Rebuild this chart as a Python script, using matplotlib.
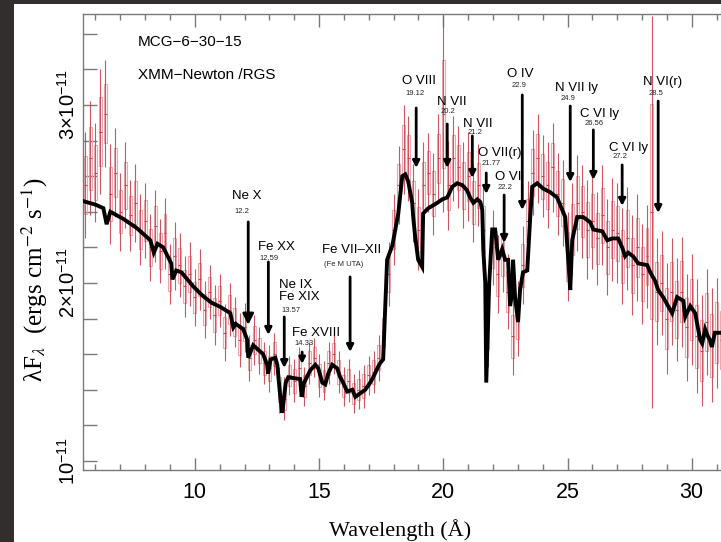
import numpy as np
import matplotlib
matplotlib.use("Agg")
import matplotlib.pyplot as plt
from matplotlib.patches import Rectangle

plt.rcParams["font.family"] = ["Liberation Sans", "DejaVu Sans"]
plt.rcParams["mathtext.fontset"] = "custom"
plt.rcParams["mathtext.rm"] = "Liberation Sans"
plt.rcParams["mathtext.it"] = "Liberation Sans:italic"
plt.rcParams["mathtext.bf"] = "Liberation Sans:bold"

# ---------------- data (flux in units of 1e-11 erg cm^-2 s^-1) ----------------
model_wl = [5.5, 6.0, 6.32, 6.45, 6.6, 7.12, 7.65, 8.21, 8.35, 8.5,
            8.73, 9.05, 9.1, 9.25, 9.46, 9.94, 10.3, 10.66, 11.03, 11.43,
            11.55, 11.65, 11.95, 12.11, 12.15, 12.35, 12.75, 12.91, 12.95, 13.05,
            13.24, 13.32, 13.44, 13.52, 13.66, 13.76, 14.24, 14.3, 14.4, 14.65,
            14.85, 14.97, 15.13, 15.25, 15.37, 15.53, 15.73, 15.85, 15.97, 16.13,
            16.34, 16.46, 16.66, 16.86, 17.06, 17.18, 17.38, 17.46, 17.58, 17.66,
            17.74, 17.95, 18.07, 18.19, 18.35, 18.47, 18.59, 18.75, 18.79, 18.87,
            18.99, 19.15, 19.19, 19.40, 19.76, 19.96, 20.16, 20.36, 20.56, 20.76,
            20.96, 21.08, 21.21, 21.37, 21.49, 21.57, 21.61, 21.69, 21.73, 21.85,
            21.97, 22.09, 22.17, 22.21, 22.37, 22.49, 22.61, 22.69, 22.77, 22.81,
            22.89, 23.01, 23.09, 23.21, 23.38, 23.50, 23.58, 23.78, 24.02, 24.30,
            24.58, 24.79, 24.91, 25.03, 25.11, 25.19, 25.39, 25.63, 25.92, 26.04,
            26.40, 26.60, 26.80, 27.04, 27.20, 27.32, 27.44, 27.64, 27.84, 28.21,
            28.33, 28.53, 28.65, 28.85, 29.05, 29.21, 29.41, 29.66, 29.74, 29.94,
            30.14, 30.26, 30.34, 30.42, 30.54, 30.65, 30.73, 30.81, 30.93, 31.13,
            31.6]
model_flux = [2.46, 2.44, 2.42, 2.33, 2.40, 2.36, 2.31, 2.24, 2.17, 2.22,
              2.20, 2.11, 2.02, 2.07, 2.06, 1.98, 1.93, 1.89, 1.865, 1.83,
              1.75, 1.77, 1.74, 1.68, 1.58, 1.65, 1.60, 1.54, 1.49, 1.57,
              1.58, 1.54, 1.36, 1.27, 1.44, 1.47, 1.46, 1.36, 1.44, 1.51,
              1.54, 1.52, 1.44, 1.43, 1.49, 1.54, 1.52, 1.47, 1.44, 1.39,
              1.40, 1.36, 1.38, 1.40, 1.44, 1.47, 1.53, 1.55, 1.57, 1.85,
              2.13, 2.21, 2.30, 2.39, 2.60, 2.61, 2.57, 2.45, 2.37, 2.26,
              2.13, 2.09, 2.39, 2.42, 2.45, 2.47, 2.48, 2.54, 2.56, 2.55,
              2.52, 2.48, 2.45, 2.47, 2.455, 2.41, 2.19, 2.00, 1.44, 2.00,
              2.30, 2.30, 2.19, 2.13, 2.19, 2.13, 2.13, 1.87, 1.94, 2.13,
              1.92, 1.78, 1.96, 2.06, 2.07, 2.37, 2.54, 2.56, 2.53, 2.51,
              2.48, 2.41, 2.37, 2.13, 1.96, 2.24, 2.37, 2.37, 2.34, 2.30,
              2.29, 2.24, 2.25, 2.25, 2.20, 2.15, 2.17, 2.15, 2.11, 2.10,
              2.06, 2.01, 1.96, 1.92, 1.87, 1.83, 1.92, 1.90, 1.81, 1.87,
              1.83, 1.74, 1.68, 1.66, 1.74, 1.70, 1.68, 1.64, 1.72, 1.72,
              1.72]

data_wl = np.round(np.arange(5.6, 31.21, 0.2), 1)
data_flux = [2.55, 2.70, 2.62, 2.85, 2.95, 2.50, 2.62, 2.40, 2.55, 2.38,
             2.45, 2.30, 2.35, 2.20, 2.32, 2.18, 2.28, 2.05, 2.15, 2.10,
             1.98, 2.05, 1.92, 2.02, 1.85, 1.95, 1.82, 1.90, 1.72, 1.85,
             1.78, 1.68, 1.75, 1.58, 1.68, 1.62, 1.55, 1.52, 1.60, 1.40,
             1.35, 1.48, 1.45, 1.52, 1.42, 1.55, 1.58, 1.48, 1.45, 1.55,
             1.60, 1.50, 1.42, 1.45, 1.38, 1.40, 1.42, 1.48, 1.50, 1.58,
             1.72, 2.05, 2.30, 2.55, 2.75, 2.70, 2.45, 2.30, 2.55, 2.62,
             2.50, 2.70, 2.95, 2.55, 2.70, 2.65, 2.55, 2.60, 2.45, 2.55,
             2.30, 1.75, 2.20, 2.05, 2.15, 1.95, 1.70, 1.80, 2.10, 2.35,
             2.62, 2.70, 2.60, 2.55, 2.65, 2.50, 2.45, 2.15, 2.30, 2.45,
             2.40, 2.30, 2.35, 2.25, 2.38, 2.20, 2.30, 2.28, 2.15, 2.25,
             2.10, 2.20, 2.05, 2.15, 2.40, 1.95, 2.00, 1.80, 1.95, 1.85,
             1.95, 1.75, 1.85, 1.70, 1.62, 1.78, 1.65, 1.72, 1.68]
data_err = [0.30, 0.32, 0.28, 0.35, 0.30, 0.28,
            0.25, 0.22, 0.24, 0.20, 0.22, 0.20, 0.21, 0.19, 0.20, 0.18, 0.20, 0.17, 0.19, 0.18, 0.17, 0.18,
            0.16, 0.17, 0.16, 0.15, 0.17, 0.15, 0.16, 0.15, 0.14, 0.15,
            0.14, 0.13, 0.14, 0.13, 0.12, 0.13, 0.12, 0.13, 0.12, 0.11, 0.12, 0.12, 0.11, 0.12,
            0.11, 0.12, 0.11, 0.12, 0.11, 0.12, 0.11, 0.12, 0.11, 0.11, 0.12, 0.11, 0.12, 0.13,
            0.15, 0.18, 0.20, 0.22, 0.25, 0.24, 0.22, 0.23, 0.24, 0.22, 0.23, 0.25, 0.55, 0.25,
            0.24, 0.23, 0.24, 0.25, 0.22, 0.23, 0.24,
            0.22, 0.21, 0.22, 0.20, 0.21, 0.22, 0.21, 0.22,
            0.22, 0.24, 0.25, 0.23, 0.24, 0.25, 0.23, 0.24, 0.25,
            0.26, 0.27, 0.26, 0.28, 0.27, 0.26, 0.28, 0.27, 0.29, 0.28, 0.27, 0.29, 0.28, 0.30,
            0.28, 0.29, 1.10, 0.30, 0.29, 0.31, 0.30, 0.29, 0.31, 0.30, 0.31, 0.32, 0.31, 0.30,
            0.32, 0.31, 0.30]

line_names = ["Ne X", "Fe XX", "Ne IX\nFe XIX", "Fe XVIII", "Fe VII\u2013XII",
              "O VIII", "N VII", "N VII", "O VII(r)", "O VI",
              "O IV", "N VII ly", "C VI ly", "C VI ly", "N VI(r)"]
line_labels = ["12.2", "12.59", "13.57", "14.33", "(Fe M UTA)",
               "19.12", "20.2", "21.2", "21.77", "22.2",
               "22.9", "24.9", "26.56", "27.2", "28.5"]

# ---------------- layout (positions) ----------------
arrow_x = [12.15, 12.96, 13.60, 14.32, 16.25, 18.91, 20.16, 21.17, 21.73, 22.45,
           23.18, 25.11, 26.04, 27.20, 28.65]
arrow_top = [2.343, 2.118, 1.809, 1.612, 2.034, 2.983, 2.893, 2.826, 2.618, 2.494,
             3.056, 2.994, 2.860, 2.663, 3.022]
arrow_bot = [1.764, 1.708, 1.522, 1.545, 1.612, 2.646, 2.646, 2.590, 2.500, 2.225,
             2.410, 2.567, 2.579, 2.433, 2.393]
head_scale = [16, 10, 10, 9, 10, 10, 10, 10, 10, 10, 10, 10, 10, 10, 10]
name_x = [11.51, 12.55, 13.39, 13.91, 15.12, 18.35, 19.76, 20.80, 21.41, 22.09,
          22.57, 24.50, 25.51, 26.68, 28.05]
name_y = [2.489, 2.202, 1.955, 1.719, 2.185, 3.135, 3.017, 2.893, 2.730, 2.596,
          3.174, 3.096, 2.949, 2.758, 3.129]
num_x = [11.59, 12.59, 13.47, 14.03, 15.20, 18.47, 19.88, 20.96, 21.53, 22.17,
         22.73, 24.74, 25.67, 26.80, 28.25]
num_y = [2.404, 2.135, 1.843, 1.657, 2.101, 3.067, 2.961, 2.843, 2.669, 2.534,
         3.112, 3.034, 2.893, 2.713, 3.062]

W, H = 721, 542
fig = plt.figure(figsize=(W / 100, H / 100), dpi=100)
fig.patch.set_facecolor("#322e2e")
fig.patches.append(Rectangle((14 / W, 0), 1 - 14 / W, 1 - 4 / H,
                             transform=fig.transFigure, facecolor="white",
                             edgecolor="none", zorder=-10))

ax_l, ax_r, ax_t, ax_b = 83, 729, 14, 470
ax = fig.add_axes([ax_l / W, 1 - ax_b / H, (ax_r - ax_l) / W, (ax_b - ax_t) / H])
ax.set_zorder(2)
ax.set_xlim(5.5, 31.5)
ax.set_ylim(0.949, 3.511)

# data: error bars and boxes
dflux = np.array(data_flux)
derr = np.array(data_err)
for xw, f, e in zip(data_wl, dflux, derr):
    ax.add_patch(Rectangle((xw - 0.06, f - 0.55 * e), 0.12, 1.1 * e,
                           facecolor="none", edgecolor="#eaa9ae", lw=0.8, zorder=2))
ax.vlines(data_wl, dflux - derr, dflux + derr, color="#c8444d", lw=0.8, alpha=0.9, zorder=3)
ax.hlines(dflux, data_wl - 0.06, data_wl + 0.06, color="#c8444d", lw=0.8, zorder=3)

# model
ax.plot(model_wl, model_flux, color="black", lw=2.8, solid_joinstyle="miter", zorder=5)

# line annotations
for i in range(len(line_names)):
    ax.annotate("", xy=(arrow_x[i], arrow_bot[i]), xytext=(arrow_x[i], arrow_top[i]),
                arrowprops=dict(arrowstyle="-|>", color="black", lw=2.0,
                                mutation_scale=head_scale[i], shrinkA=0, shrinkB=0),
                zorder=6)
    ax.text(name_x[i], name_y[i], line_names[i], fontsize=9.5, ha="left", va="center",
            linespacing=1.05, zorder=7)
    ax.text(num_x[i], num_y[i], line_labels[i], fontsize=5.5, ha="left", va="center",
            color="#222222", zorder=7)

ax.text((138 - ax_l) / (ax_r - ax_l), (ax_b - 42) / (ax_b - ax_t), "MCG\u22126\u221230\u221215",
        transform=ax.transAxes, fontsize=11, ha="left", va="center")
ax.text((138 - ax_l) / (ax_r - ax_l), (ax_b - 75) / (ax_b - ax_t), "XMM\u2212Newton /RGS",
        transform=ax.transAxes, fontsize=11, ha="left", va="center")

# axes styling
spine_c = "#7a7a7a"
for s in ["left", "bottom", "top"]:
    ax.spines[s].set_color(spine_c)
    ax.spines[s].set_linewidth(1.0)
ax.spines["right"].set_visible(False)

ax.set_xticks([10, 15, 20, 25, 30])
ax.set_xticks(np.arange(6, 32, 1), minor=True)
ax.set_yticks([1, 2, 3])
ax.set_yticks(np.arange(1.2, 3.5, 0.2), minor=True)
ax.tick_params(axis="x", which="major", direction="in", length=9, width=1, color=spine_c,
               top=True, labelsize=15.5, pad=9)
ax.tick_params(axis="x", which="minor", direction="in", length=4, width=1, color=spine_c, top=True)
ax.tick_params(axis="y", which="both", direction="in", length=10, width=1, color=spine_c,
               labelsize=14.5, pad=3)
ax.set_yticklabels(["10$^{\u221211}$", "2\u00d710$^{\u221211}$", "3\u00d710$^{\u221211}$"],
                   rotation=90, va="center")

fig.text(400 / W, 1 - 530 / H, "Wavelength (\u00c5)", family="Liberation Serif",
         fontsize=16, ha="center", va="center")
fig.text(35 / W, 1 - 280 / H, "\u03bbF$_\u03bb$  (ergs cm$^{-2}$ s$^{-1}$)",
         family="Liberation Serif", math_fontfamily="stix", fontsize=18,
         rotation=90, ha="center", va="center")

fig.savefig("out.png", dpi=100, facecolor=fig.get_facecolor())
